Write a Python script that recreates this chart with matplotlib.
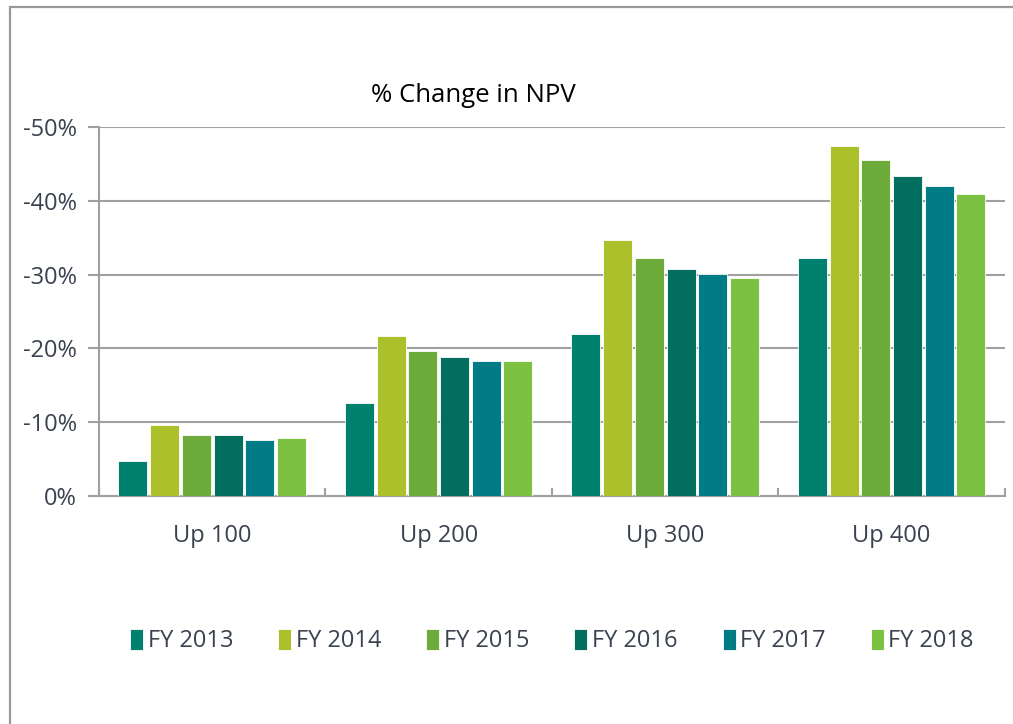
import numpy as np
import matplotlib
matplotlib.use('Agg')
import matplotlib.pyplot as plt
from matplotlib.patches import Rectangle
from matplotlib.ticker import FixedLocator

# data (% change in NPV)
scenarios = ['Up 100', 'Up 200', 'Up 300', 'Up 400']
years = ['FY 2013', 'FY 2014', 'FY 2015', 'FY 2016', 'FY 2017', 'FY 2018']
fy2013 = [-4.7, -12.6, -22.0, -32.3]
fy2014 = [-9.6, -21.7, -34.7, -47.4]
fy2015 = [-8.2, -19.6, -32.3, -45.5]
fy2016 = [-8.2, -18.8, -30.7, -43.4]
fy2017 = [-7.6, -18.3, -30.1, -42.0]
fy2018 = [-7.9, -18.3, -29.6, -40.9]
series = [fy2013, fy2014, fy2015, fy2016, fy2017, fy2018]
colors = ['#00806e', '#abc02a', '#6dab3b', '#016e5e', '#017b86', '#7dc143']
yticks = [0, -10, -20, -30, -40, -50]

plt.rcParams['font.family'] = ['Open Sans', 'DejaVu Sans']
text_col = '#3a4250'
grid_col = '#a0a0a0'

fig = plt.figure(figsize=(10.13, 7.24), dpi=100)
ax = fig.add_axes([0.0977, 0.3149, 0.8943, 0.5097])

# gray frame around the chart area (runs off right/bottom edges)
fig.patches.append(Rectangle((10 / 1013, -0.1), 1.2, (724 - 7) / 724 + 0.1,
                             transform=fig.transFigure, fill=False,
                             edgecolor='#999999', linewidth=1.6))

x = np.arange(len(scenarios))
step = 0.14
width = 0.128
for i, (vals, lab, c) in enumerate(zip(series, years, colors)):
    ax.bar(x + (i - 2.5) * step, vals, width, label=lab, color=c,
           edgecolor='white', linewidth=0.6, zorder=3)

ax.set_xlim(-0.5, len(scenarios) - 0.5)
ax.set_ylim(0, -50)
ax.set_yticks(yticks)
ax.set_yticklabels(['%d%%' % v for v in yticks], fontsize=17, color=text_col)
ax.yaxis.grid(True, color=grid_col, linewidth=1.5, zorder=0)
ax.tick_params(axis='y', length=8, width=1.5, color=grid_col, pad=8)

ax.set_xticks(x)
ax.set_xticklabels(scenarios, fontsize=17, color=text_col)
ax.tick_params(axis='x', length=0, pad=20)
ax.xaxis.set_minor_locator(FixedLocator(np.arange(-0.5, len(scenarios), 1.0)))
ax.tick_params(axis='x', which='minor', direction='in', length=6, width=1.5, color=grid_col)

for s in ['top', 'right']:
    ax.spines[s].set_visible(False)
for s in ['left', 'bottom']:
    ax.spines[s].set_color(grid_col)
    ax.spines[s].set_linewidth(1.5)

fig.text(473 / 1013, 1 - 96 / 724, '% Change in NPV', fontsize=18.5, color='black',
         ha='center', va='center')

leg = fig.legend(loc='center', bbox_to_anchor=(0.545, 1 - 641 / 724), ncol=6, frameon=False,
                 fontsize=17, handlelength=0.55, handleheight=1.0, handletextpad=0.2,
                 columnspacing=1.9)
for t in leg.get_texts():
    t.set_color(text_col)

fig.savefig('out.png', dpi=100)
